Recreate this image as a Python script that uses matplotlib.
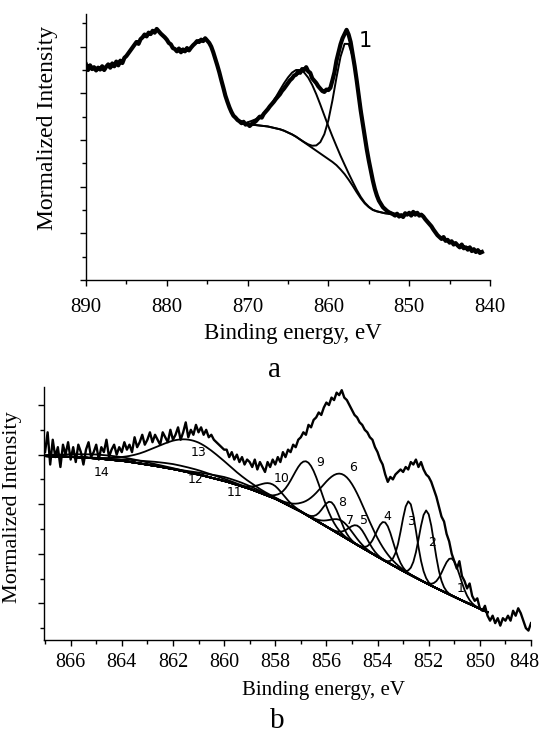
import matplotlib
matplotlib.use("Agg")
import matplotlib.pyplot as plt
from matplotlib.ticker import MultipleLocator, NullFormatter, FuncFormatter
import numpy as np

plt.rcParams['font.family'] = ['Liberation Serif', 'DejaVu Serif']

# ---------------- panel a: measured spectrum, 890 -> 841 eV, step 0.25 eV
spec_a = [
    4.62, 4.50, 4.60, 4.52, 4.56, 4.49, 4.55, 4.51, 4.58, 4.50, 4.57, 4.62,
    4.55, 4.64, 4.58, 4.68, 4.60, 4.70, 4.65, 4.76, 4.80, 4.86, 4.92, 4.98,
    5.04, 5.10, 5.06, 5.16, 5.20, 5.26, 5.22, 5.30, 5.27, 5.34, 5.30, 5.38,
    5.33, 5.28, 5.24, 5.20, 5.15, 5.08, 5.05, 4.97, 4.95, 4.90, 4.96, 4.88,
    4.94, 4.90, 4.97, 4.92, 4.98, 5.03, 5.07, 5.12, 5.10, 5.15, 5.12, 5.18,
    5.13, 5.08, 5.00, 4.88, 4.74, 4.60, 4.45, 4.28, 4.12, 3.95, 3.82, 3.70,
    3.60, 3.52, 3.48, 3.43, 3.40, 3.36, 3.39, 3.33, 3.35, 3.30, 3.34, 3.37,
    3.40, 3.45, 3.50, 3.48, 3.56, 3.61, 3.66, 3.72, 3.77, 3.82, 3.88, 3.93,
    3.98, 4.05, 4.10, 4.16, 4.22, 4.28, 4.32, 4.38, 4.40, 4.46, 4.44, 4.52,
    4.50, 4.56, 4.47, 4.44, 4.32, 4.27, 4.22, 4.15, 4.10, 4.05, 4.03, 4.08,
    4.07, 4.12, 4.28, 4.45, 4.70, 4.88, 5.05, 5.18, 5.27, 5.36, 5.26, 5.10,
    4.84, 4.58, 4.28, 3.95, 3.63, 3.35, 3.06, 2.80, 2.56, 2.34, 2.13, 1.95,
    1.81, 1.70, 1.63, 1.56, 1.52, 1.48, 1.45, 1.43, 1.41, 1.38, 1.42, 1.36,
    1.39, 1.35, 1.43, 1.40, 1.44, 1.38, 1.46, 1.40, 1.44, 1.38, 1.40, 1.36,
    1.30, 1.25, 1.20, 1.15, 1.08, 1.02, 0.96, 0.92, 0.88, 0.92, 0.84, 0.86,
    0.80, 0.83, 0.76, 0.79, 0.74, 0.70, 0.76, 0.68, 0.70, 0.65, 0.70, 0.62,
    0.66, 0.60, 0.64, 0.58, 0.60,
]
# background, 870 -> 851.5 eV, step 0.5 eV
bg_a = [
    3.33, 3.33, 3.32, 3.31, 3.30, 3.29, 3.27, 3.25, 3.23, 3.20, 3.16, 3.12,
    3.07, 3.01, 2.95, 2.89, 2.83, 2.77, 2.71, 2.65, 2.59, 2.53, 2.46, 2.37,
    2.27, 2.15, 2.02, 1.88, 1.75, 1.64, 1.56, 1.50, 1.47, 1.45, 1.43, 1.42,
    1.41, 1.41,
]
peak_a_center = [857.55, 863.2]
peak_a_height = [2.91, 1.50]
peak_a_sigma_hi = [1.55, 2.6]   # high binding energy side
peak_a_sigma_lo = [1.73, 2.6]   # low binding energy side
label_a = ["1"]
label_a_pos = [(855.4, 5.12)]

# ---------------- panel b: measured spectrum, 867 -> 848 eV, step 0.1 eV
spec_b = [
    3.05, 3.45, 2.80, 3.30, 2.95, 3.15, 2.75, 3.20, 3.00, 3.25, 2.90,
    3.15, 2.85, 3.20, 3.05, 2.80, 3.10, 3.25, 2.95, 3.05, 3.20,
    2.90, 3.15, 3.05, 3.30, 2.95, 3.10, 3.20, 3.00, 3.15, 3.05,
    3.25, 3.10, 3.20, 3.05, 3.35, 3.15, 3.25, 3.40, 3.20, 3.30,
    3.45, 3.25, 3.40, 3.30, 3.20, 3.45, 3.35, 3.25, 3.50, 3.30,
    3.40, 3.55, 3.30, 3.45, 3.65, 3.35, 3.50, 3.40, 3.60, 3.45,
    3.55, 3.40, 3.50, 3.35, 3.40, 3.30, 3.25, 3.20, 3.15, 3.10,
    3.10, 2.95, 3.05, 2.90, 3.00, 2.85, 2.95, 2.80, 2.90, 2.85,
    2.75, 2.90, 2.70, 2.85, 2.75, 2.65, 2.85, 2.75, 2.90, 2.80,
    2.95, 2.85, 3.05, 2.95, 3.10, 3.05, 3.20, 3.15, 3.30, 3.35,
    3.45, 3.40, 3.60, 3.55, 3.70, 3.75, 3.85, 3.80, 3.95, 4.05,
    4.00, 4.15, 4.10, 4.25, 4.20, 4.30, 4.15, 4.10, 4.00, 3.90,
    3.80, 3.75, 3.65, 3.60, 3.50, 3.45, 3.35, 3.30, 3.15, 3.05,
    2.90, 2.80, 2.60, 2.45, 2.55, 2.50, 2.60, 2.65, 2.70, 2.65,
    2.75, 2.70, 2.85, 2.80, 2.90, 2.75, 2.85, 2.70, 2.60, 2.55,
    2.45, 2.30, 2.15, 1.95, 1.75, 1.65, 1.40, 1.25, 1.00, 0.85,
    0.70, 0.85, 0.55, 0.45, 0.30, 0.40, 0.15, 0.05, 0.10, -0.10,
    -0.15, -0.05, -0.25, -0.35, -0.25, -0.40, -0.30, -0.45, -0.30, -0.35,
    -0.25, -0.35, -0.15, -0.25, -0.10, -0.20, -0.35, -0.50, -0.55, -0.40,
]
# background, 867 -> 849.7 eV, step 0.1 eV
bg_b = [
    2.970, 2.969, 2.967, 2.966, 2.964, 2.963, 2.961, 2.960, 2.958, 2.957,
    2.955, 2.952, 2.949, 2.946, 2.943, 2.940, 2.937, 2.934, 2.931, 2.928,
    2.925, 2.920, 2.915, 2.910, 2.905, 2.900, 2.895, 2.890, 2.885, 2.880,
    2.875, 2.868, 2.861, 2.853, 2.846, 2.838, 2.830, 2.822, 2.815, 2.807,
    2.800, 2.791, 2.782, 2.773, 2.764, 2.755, 2.746, 2.737, 2.728, 2.719,
    2.710, 2.699, 2.688, 2.677, 2.666, 2.655, 2.644, 2.633, 2.622, 2.611,
    2.600, 2.587, 2.574, 2.561, 2.548, 2.535, 2.522, 2.509, 2.496, 2.483,
    2.470, 2.455, 2.439, 2.423, 2.407, 2.391, 2.375, 2.359, 2.342, 2.326,
    2.310, 2.291, 2.271, 2.251, 2.231, 2.210, 2.190, 2.170, 2.150, 2.130,
    2.110, 2.085, 2.059, 2.033, 2.006, 1.980, 1.954, 1.928, 1.902, 1.876,
    1.850, 1.820, 1.790, 1.760, 1.730, 1.700, 1.670, 1.640, 1.610, 1.580,
    1.550, 1.519, 1.488, 1.457, 1.426, 1.395, 1.364, 1.333, 1.302, 1.271,
    1.240, 1.210, 1.180, 1.150, 1.120, 1.090, 1.060, 1.030, 1.000, 0.970,
    0.940, 0.911, 0.882, 0.853, 0.824, 0.795, 0.766, 0.737, 0.708, 0.679,
    0.650, 0.623, 0.596, 0.569, 0.542, 0.515, 0.488, 0.461, 0.434, 0.407,
    0.380, 0.355, 0.330, 0.305, 0.280, 0.255, 0.230, 0.205, 0.180, 0.155,
    0.130, 0.106, 0.082, 0.058, 0.034, 0.010, -0.014, -0.038, -0.062, -0.086,
    -0.110, -0.134, -0.157, -0.180,
]
# fitted components 1..14
peak_b_center = [851.10, 852.08, 852.77, 853.72, 854.77, 855.32, 855.40,
                 855.81, 856.75, 858.15, 859.80, 861.80, 861.30, 864.60]
peak_b_height = [0.75, 1.47, 1.47, 0.78, 0.39, 1.25, 0.30,
                 0.55, 1.08, 0.27, 0.08, 0.10, 0.66, 0.08]
peak_b_sigma = [0.33, 0.29, 0.29, 0.33, 0.36, 0.85, 0.45,
                0.33, 0.54, 0.45, 1.00, 1.40, 1.30, 1.50]
label_b = ["1", "2", "3", "4", "5", "6", "7",
           "8", "9", "10", "11", "12", "13", "14"]
label_b_pos = [(850.77, 0.30), (851.86, 1.22), (852.68, 1.65), (853.63, 1.76),
               (854.53, 1.67), (854.96, 2.73), (855.09, 1.67), (855.38, 2.04),
               (856.23, 2.84), (857.76, 2.52), (859.58, 2.24), (861.10, 2.49),
               (860.98, 3.04), (864.80, 2.63)]

fig = plt.figure(figsize=(5.43, 7.33), dpi=100)
ax_a = fig.add_axes([86 / 543, 1 - 280 / 733, 404 / 543, 266 / 733])
ax_b = fig.add_axes([44.3 / 543, 1 - 640 / 733, 486.7 / 543, 253.3 / 733])

# panel a
e_a = 890.0 - 0.25 * np.arange(len(spec_a))
ebg_a = 870.0 - 0.5 * np.arange(len(bg_a))
bg_a = np.array(bg_a)
ax_a.plot(e_a, spec_a, color='black', lw=3.0, solid_joinstyle='round')
ax_a.plot(ebg_a, bg_a, color='black', lw=1.4)
for c, h, s_hi, s_lo in zip(peak_a_center, peak_a_height, peak_a_sigma_hi, peak_a_sigma_lo):
    s = np.where(ebg_a > c, s_hi, s_lo)
    ax_a.plot(ebg_a, bg_a + h * np.exp(-0.5 * ((ebg_a - c) / s) ** 2), color='black', lw=1.4)
for txt, (x, y) in zip(label_a, label_a_pos):
    ax_a.text(x, y, txt, family='DejaVu Sans', fontsize=15, ha='center', va='center')
ax_a.set_xlim(890, 840)
ax_a.set_ylim(0, 5.7)
ax_a.xaxis.set_major_locator(MultipleLocator(10))
ax_a.xaxis.set_minor_locator(MultipleLocator(5))
ax_a.yaxis.set_major_locator(MultipleLocator(1))
ax_a.yaxis.set_minor_locator(MultipleLocator(0.5))
ax_a.tick_params(axis='x', labelsize=15, pad=8.5)
ax_a.set_xlabel('Binding energy, eV', fontsize=16.5)
ax_a.set_ylabel('Mormalized Intensity', fontsize=17)
ax_a.xaxis.set_label_coords(0.511, -0.16)
ax_a.yaxis.set_label_coords(-0.07, 0.57)
fig.text(0.506, 1 - 377 / 733, 'a', fontsize=21, ha='center', va='baseline')

# panel b
e_b = 867.0 - 0.1 * np.arange(len(spec_b))
ebg_b = 867.0 - 0.1 * np.arange(len(bg_b))
bg_b = np.array(bg_b)
ax_b.plot(e_b, spec_b, color='black', lw=1.7, solid_joinstyle='round')
ax_b.plot(ebg_b, bg_b, color='black', lw=1.4)
for c, h, s in zip(peak_b_center, peak_b_height, peak_b_sigma):
    ax_b.plot(ebg_b, bg_b + h * np.exp(-0.5 * ((ebg_b - c) / s) ** 2), color='black', lw=1.3)
for txt, (x, y) in zip(label_b, label_b_pos):
    ax_b.text(x, y, txt, family='DejaVu Sans', fontsize=9, ha='center', va='center')
ax_b.set_xlim(867.03, 848)
ax_b.set_ylim(-0.74, 4.37)
ax_b.xaxis.set_major_locator(MultipleLocator(2))
ax_b.xaxis.set_minor_locator(MultipleLocator(1))
ax_b.yaxis.set_major_locator(MultipleLocator(1))
ax_b.yaxis.set_minor_locator(MultipleLocator(0.5))
# the last label (848) is pulled left a little so it stays inside the figure
ax_b.xaxis.set_major_formatter(FuncFormatter(lambda v, p: '' if abs(v - 848) < 0.01 else '%d' % round(v)))
ax_b.annotate('848', xy=(848, 0), xycoords=('data', 'axes fraction'),
              xytext=(-5, -9.3), textcoords='offset points',
              ha='center', va='top', fontsize=14.5)
ax_b.tick_params(axis='x', labelsize=14.5, pad=5)
ax_b.set_xlabel('Binding energy, eV', fontsize=15)
ax_b.set_ylabel('Mormalized Intensity', fontsize=16)
ax_b.xaxis.set_label_coords(0.574, -0.16)
ax_b.yaxis.set_label_coords(-0.045, 0.523)
fig.text(0.51, 1 - 728 / 733, 'b', fontsize=21, ha='center', va='baseline')

for ax in (ax_a, ax_b):
    ax.spines['top'].set_visible(False)
    ax.spines['right'].set_visible(False)
    ax.spines['left'].set_linewidth(1.0)
    ax.spines['bottom'].set_linewidth(1.0)
    ax.yaxis.set_major_formatter(NullFormatter())
    ax.tick_params(which='major', direction='out', length=4.3, width=1.0)
    ax.tick_params(which='minor', direction='out', length=2.8, width=1.0)

fig.savefig('out.png', dpi=100)
